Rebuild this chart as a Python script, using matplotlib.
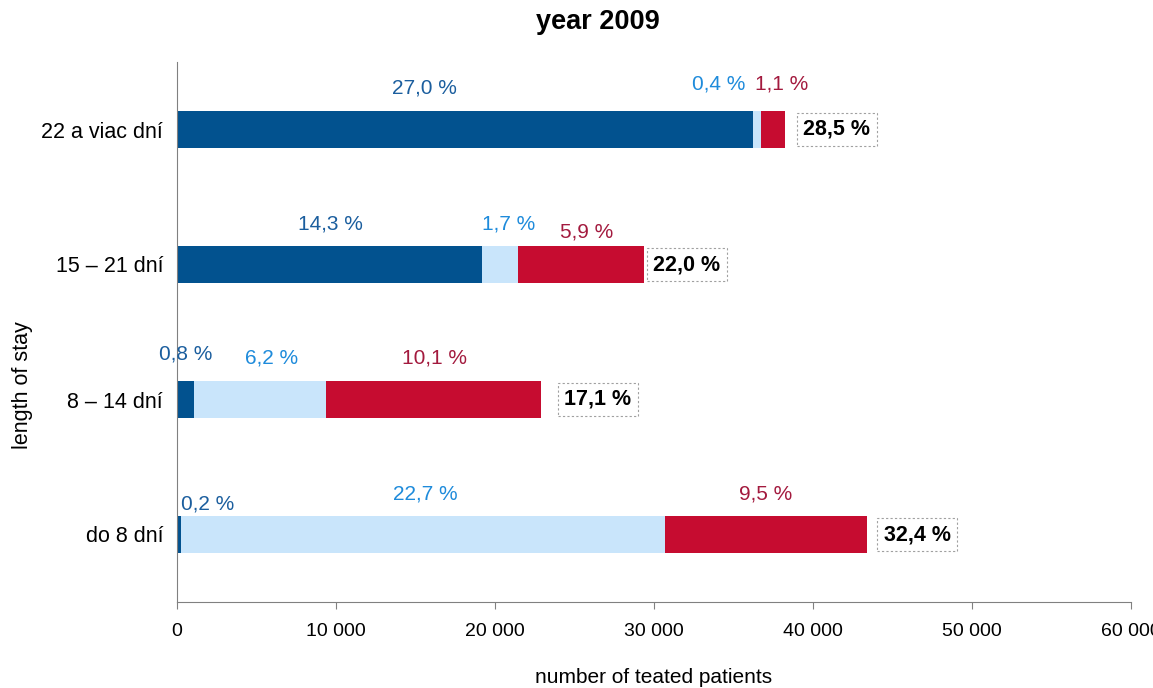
import matplotlib
matplotlib.use("Agg")
import matplotlib.pyplot as plt
import numpy as np

plt.rcParams['font.family'] = ['Liberation Sans', 'DejaVu Sans']

# data, categories top to bottom
categories = ['22 a viac dní', '15 – 21 dní', '8 – 14 dní', 'do 8 dní']
dark_vals = [36200, 19160, 1070, 270]
light_vals = [540, 2280, 8310, 30420]
red_vals = [1480, 7910, 13530, 12730]
dark_pct = ['27,0 %', '14,3 %', '0,8 %', '0,2 %']
light_pct = ['0,4 %', '1,7 %', '6,2 %', '22,7 %']
red_pct = ['1,1 %', '5,9 %', '10,1 %', '9,5 %']
total_pct = ['28,5 %', '22,0 %', '17,1 %', '32,4 %']
xticks = [0, 10000, 20000, 30000, 40000, 50000, 60000]

# label anchors (x in data units, y offset in pixels above bar centre)
dark_lab = [(15535, 42), (9623, 41), (566, 46), (1950, 31)]
light_lab = [(34088, 45), (20881, 41), (5975, 41), (15597, 40)]
red_lab = [(38050, 45), (25786, 33), (16226, 41), (37044, 40)]
total_lab_x = [41509, 32075, 26478, 46541]

c_dark, c_light, c_red = '#02528F', '#C9E5FB', '#C60C30'
t_dark, t_light, t_red = '#1B5E9E', '#1E8BDB', '#A31A3E'

fig = plt.figure(figsize=(11.53, 6.88), dpi=100)
ax = fig.add_axes([177 / 1153, 86 / 688, 954 / 1153, 540 / 688])

y = np.arange(len(categories))[::-1]
h = 0.276
dark = np.array(dark_vals)
light = np.array(light_vals)
red = np.array(red_vals)
ax.barh(y, dark, height=h, color=c_dark)
ax.barh(y, light, left=dark, height=h, color=c_light)
ax.barh(y, red, left=dark + light, height=h, color=c_red)

for i in range(len(categories)):
    for (lx, dy), txt, col in ((dark_lab[i], dark_pct[i], t_dark),
                               (light_lab[i], light_pct[i], t_light),
                               (red_lab[i], red_pct[i], t_red)):
        ax.annotate(txt, xy=(lx, y[i]), xytext=(0, dy), textcoords='offset pixels',
                    ha='center', va='center', fontsize=15, color=col)
    ax.text(total_lab_x[i], y[i], total_pct[i], ha='center', va='center',
            fontsize=15.5, fontweight='bold', color='black',
            bbox=dict(boxstyle='square,pad=0.3', fc='white', ec='#A0A0A0',
                      ls=(0, (2, 2)), lw=0.8))

ax.set_xlim(0, 60000)
ax.set_ylim(-0.5, 3.5)
ax.set_xticks(xticks)
ax.set_xticklabels([f'{v:,}'.replace(',', ' ') for v in xticks], fontsize=14)
ax.set_yticks(y)
ax.set_yticklabels(categories, fontsize=15.5)
ax.tick_params(axis='y', length=0, pad=10)
ax.tick_params(axis='x', length=5, color='#808080', pad=10)
for s in ('top', 'right'):
    ax.spines[s].set_visible(False)
for s in ('left', 'bottom'):
    ax.spines[s].set_color('#808080')

ax.set_xlabel('number of teated patients', fontsize=15, labelpad=20)
ax.set_ylabel('length of stay', fontsize=15.5)
ax.yaxis.set_label_coords(-0.151, 0.402)
fig.text(598 / 1153, 1 - 22 / 688, 'year 2009', ha='center', va='center',
         fontsize=19.5, fontweight='bold')

fig.savefig('out.png', dpi=100)
